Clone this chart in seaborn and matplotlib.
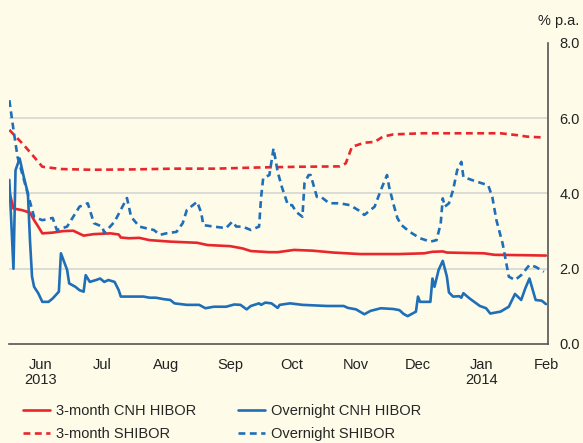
import numpy as np
import pandas as pd
import seaborn as sns
import matplotlib.pyplot as plt
import matplotlib.dates as mdates

sns.set_style('white')
plt.rcParams['font.family'] = ['Liberation Sans', 'DejaVu Sans']

start = pd.Timestamp('2013-06-01')

# days after 1 June 2013, values in % p.a.
cnh_3m_days = [0, 2, 6, 10, 12, 14, 16, 21, 26, 31, 36, 41, 49, 53, 54, 58, 63, 68, 78, 91, 96,
               107, 113, 117, 123, 126, 130, 138, 147, 157, 170, 189, 201, 205, 210, 212, 230,
               235, 249, 260]
cnh_3m = [4.05, 3.60, 3.56, 3.49, 3.29, 3.12, 2.94, 2.96, 3.00, 3.01, 2.88, 2.92, 2.94, 2.91,
          2.83, 2.81, 2.82, 2.76, 2.72, 2.69, 2.63, 2.60, 2.54, 2.47, 2.45, 2.44, 2.44, 2.50,
          2.48, 2.43, 2.39, 2.39, 2.41, 2.45, 2.46, 2.43, 2.41, 2.37, 2.36, 2.35]

shibor_3m_days = [0, 7, 12, 16, 25, 40, 60, 80, 100, 120, 140, 160, 163, 166, 172, 177, 181,
                  186, 200, 220, 238, 246, 251, 258]
shibor_3m = [5.69, 5.29, 4.97, 4.71, 4.65, 4.63, 4.64, 4.66, 4.66, 4.69, 4.71, 4.72, 4.80, 5.24,
             5.35, 5.37, 5.51, 5.57, 5.60, 5.60, 5.60, 5.55, 5.51, 5.49]

cnh_on_days = [0, 2, 3, 5, 7, 9, 10, 11, 12, 14, 16, 19, 21, 23, 24, 25, 28, 29, 32, 34, 36,
               37, 39, 42, 44, 46, 48, 51, 53, 54, 60, 65, 68, 71, 75, 78, 80, 86, 92, 95, 99,
               105, 109, 112, 115, 117, 121, 122, 124, 127, 130, 131, 136, 142, 154, 162, 164,
               168, 172, 175, 180, 186, 189, 191, 193, 196, 197, 198, 199, 204, 205, 206, 208,
               210, 212, 213, 215, 218, 219, 220, 223, 228, 231, 233, 238, 242, 245, 248, 250,
               252, 255, 258, 260]
cnh_on = [4.36, 2.00, 4.62, 4.93, 4.44, 4.00, 2.76, 1.79, 1.52, 1.35, 1.12, 1.12, 1.21, 1.33,
          1.39, 2.41, 1.97, 1.61, 1.52, 1.43, 1.39, 1.83, 1.65, 1.70, 1.74, 1.65, 1.70, 1.65,
          1.43, 1.26, 1.26, 1.26, 1.23, 1.23, 1.19, 1.17, 1.08, 1.04, 1.04, 0.95, 0.99, 0.99,
          1.05, 1.04, 0.92, 1.01, 1.08, 1.04, 1.10, 1.08, 0.96, 1.04, 1.08, 1.04, 1.01, 1.01,
          0.96, 0.92, 0.79, 0.88, 0.95, 0.93, 0.90, 0.80, 0.74, 0.83, 0.86, 1.26, 1.12, 1.12,
          1.74, 1.52, 1.97, 2.21, 1.79, 1.37, 1.26, 1.27, 1.23, 1.35, 1.21, 1.01, 0.95, 0.81,
          0.86, 0.99, 1.33, 1.17, 1.48, 1.74, 1.17, 1.15, 1.06]

shibor_on_days = [0, 2, 4, 8, 12, 16, 21, 23, 28, 34, 38, 41, 45, 46, 51, 57, 59, 63, 66, 70,
                  73, 76, 81, 84, 86, 91, 93, 94, 99, 105, 108, 110, 113, 117, 121, 122, 123,
                  126, 128, 130, 132, 135, 137, 139, 142, 143, 145, 146, 149, 151, 155, 160,
                  165, 169, 172, 177, 180, 183, 184, 186, 188, 190, 194, 199, 204, 207, 209,
                  210, 211, 213, 215, 217, 219, 220, 224, 229, 232, 234, 236, 239, 242, 245,
                  248, 252, 255, 259]
shibor_on = [6.48, 5.70, 4.97, 4.18, 3.38, 3.29, 3.35, 3.03, 3.12, 3.65, 3.74, 3.21, 3.12, 2.95,
             3.25, 3.88, 3.38, 3.12, 3.08, 3.03, 2.90, 2.94, 2.98, 3.21, 3.56, 3.78, 3.48, 3.16,
             3.12, 3.08, 3.25, 3.12, 3.12, 3.03, 3.12, 3.91, 4.41, 4.49, 5.20, 4.58, 4.18, 3.69,
             3.69, 3.51, 3.38, 4.27, 4.49, 4.49, 3.91, 3.91, 3.74, 3.74, 3.69, 3.56, 3.43, 3.65,
             4.09, 4.49, 4.18, 3.74, 3.35, 3.16, 2.98, 2.81, 2.72, 2.76, 3.20, 3.87, 3.65, 3.74,
             4.09, 4.62, 4.84, 4.44, 4.36, 4.27, 4.22, 3.91, 3.29, 2.67, 1.79, 1.70, 1.83, 2.10,
             2.05, 1.92]

month_labels = ['Jun\n2013', 'Jul', 'Aug', 'Sep', 'Oct', 'Nov', 'Dec', 'Jan\n2014', 'Feb']
y_ticks = [0, 2, 4, 6, 8]

bg = '#fefbe9'
red = '#e8262b'
blue = '#1f6fb8'
axis_col = '#555555'
txt = '#222222'
fs = 10.5


def to_dates(days):
    return start + pd.to_timedelta(days, unit='D')


fig = plt.figure(figsize=(5.83, 4.43), dpi=100, facecolor=bg)
ax = fig.add_axes([0.016, 0.2235, 0.924, 0.6795], facecolor=bg)

lw = 1.9
dash = (2.6, 1.7)
sns.lineplot(x=to_dates(cnh_3m_days), y=cnh_3m, ax=ax, color=red, lw=lw,
             label='3-month CNH HIBOR')
sns.lineplot(x=to_dates(shibor_3m_days), y=shibor_3m, ax=ax, color=red, lw=lw,
             label='3-month SHIBOR').lines[-1].set_dashes(dash)
sns.lineplot(x=to_dates(cnh_on_days), y=cnh_on, ax=ax, color=blue, lw=lw,
             label='Overnight CNH HIBOR')
sns.lineplot(x=to_dates(shibor_on_days), y=shibor_on, ax=ax, color=blue, lw=lw,
             label='Overnight SHIBOR').lines[-1].set_dashes(dash)

ax.set_xlim(start, start + pd.Timedelta(days=261))
ax.set_ylim(0, 8)

# month boundaries as ticks, names centred between them
ax.xaxis.set_major_locator(mdates.MonthLocator())
ax.xaxis.set_major_formatter(plt.NullFormatter())
ax.xaxis.set_minor_locator(mdates.MonthLocator(bymonthday=16))
ax.set_xticklabels(month_labels, minor=True)
ax.tick_params(axis='x', which='major', direction='in', length=9, width=1, color=axis_col)
ax.tick_params(axis='x', which='minor', length=0, pad=10, labelsize=fs, labelcolor=txt)
for t in ax.get_xticklabels(minor=True):
    t.set_multialignment('center')
    t.set_linespacing(1.1)

ax.yaxis.tick_right()
ax.set_yticks(y_ticks)
ax.set_yticklabels([f'{v:.1f}' for v in y_ticks])
ax.tick_params(axis='y', length=0, pad=8, labelsize=fs, labelcolor=txt)
ax.set_xlabel('')
ax.set_ylabel('')

ax.grid(False)
for v in [2, 4, 6]:
    ax.axhline(v, color='#d9d9d6', lw=1.3, zorder=0)

for s in ['left', 'top']:
    ax.spines[s].set_visible(False)
for s in ['right', 'bottom']:
    ax.spines[s].set_color(axis_col)
    ax.spines[s].set_linewidth(1.2)

fig.text(0.993, 0.953, '% p.a.', ha='right', va='center', fontsize=fs, color=txt)

handles, labels = ax.get_legend_handles_labels()
ax.legend_.remove()
fig.legend(handles, labels, ncol=2, loc='lower left', bbox_to_anchor=(0.039, 0.004),
           frameon=False, fontsize=fs, handlelength=1.87, columnspacing=2.85,
           labelspacing=0.6, handletextpad=0.42, borderaxespad=0, borderpad=0)

fig.savefig('out.png', dpi=100, facecolor=bg)
